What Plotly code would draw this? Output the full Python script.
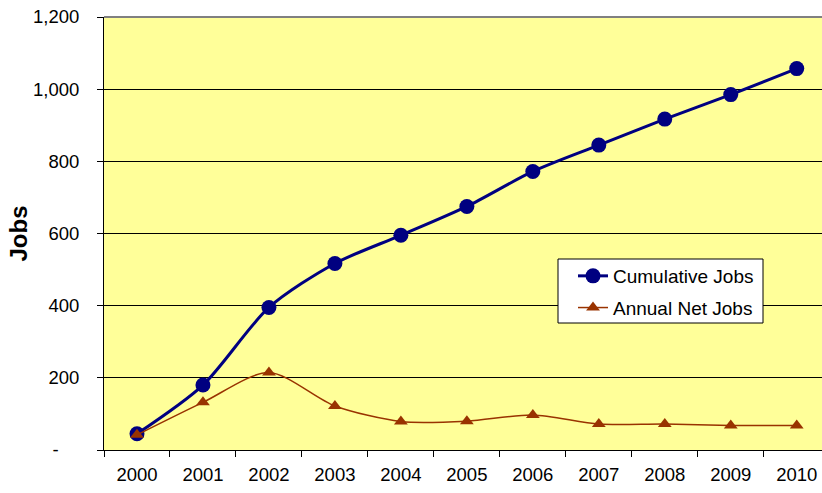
import plotly.graph_objects as go

years = ["2000", "2001", "2002", "2003", "2004", "2005", "2006", "2007", "2008", "2009", "2010"]
cumulative_jobs = [45, 180, 395, 517, 595, 675, 772, 845, 917, 985, 1057]
annual_net_jobs = [42, 132, 215, 122, 79, 80, 97, 72, 72, 68, 68]
y_tick_vals = [0, 200, 400, 600, 800, 1000, 1200]
y_tick_text = ["-\u00a0\u00a0\u00a0\u00a0", "200", "400", "600", "800", "1,000", "1,200"]

FONT = "Liberation Sans, Arial, sans-serif"

# plot area geometry in pixels (for paper-coordinate placement)
L, T, W, H = 104, 17, 718, 433


def px_x(x):
    return (x - L) / W


def px_y(y):
    return (T + H - y) / H


fig = go.Figure()
fig.add_trace(go.Scatter(
    x=years, y=cumulative_jobs, name="Cumulative Jobs", mode="lines+markers",
    line=dict(color="#000080", width=3, shape="spline", smoothing=0.8),
    marker=dict(symbol="circle", size=15, color="#000080"),
    legendgroup="a",
))
fig.add_trace(go.Scatter(
    x=years, y=annual_net_jobs, name="Annual Net Jobs", mode="lines+markers",
    line=dict(color="#993300", width=1.5, shape="spline", smoothing=0.8),
    marker=dict(symbol="triangle-up", size=12, color="#993300"),
    legendgroup="b",
))

fig.update_layout(
    width=822, height=493,
    margin=dict(l=L, r=0, t=T, b=493 - T - H),
    paper_bgcolor="white", plot_bgcolor="#FFFF99",
    font=dict(family=FONT, size=18.5, color="black"),
    showlegend=True,
    legend=dict(
        x=px_x(573), y=px_y(257), xanchor="left", yanchor="top",
        bgcolor="rgba(0,0,0,0)", borderwidth=0,
        font=dict(family=FONT, size=19, color="black"),
        tracegroupgap=4, traceorder="grouped",
    ),
    xaxis=dict(
        type="category", range=[-0.5, 10.383],
        tickson="boundaries", ticks="outside", ticklen=6, tickcolor="black",
        showline=True, linecolor="black", linewidth=1,
        showgrid=False, zeroline=False, ticklabelstandoff=8,
    ),
    yaxis=dict(
        range=[0, 1200], tickvals=y_tick_vals, ticktext=y_tick_text,
        ticks="outside", ticklen=6, tickcolor="black",
        showline=True, linecolor="black", linewidth=1,
        showgrid=True, gridcolor="black", gridwidth=1, zeroline=False,
        ticklabelstandoff=14,
    ),
    annotations=[dict(
        text="<b>Jobs</b>", textangle=-90, xref="paper", yref="paper",
        x=px_x(18), y=0.5, xanchor="center", yanchor="middle",
        showarrow=False, font=dict(family=FONT, size=24, color="black"),
    )],
    shapes=[
        dict(type="line", xref="paper", yref="paper", x0=0, x1=1, y0=1, y1=1,
             line=dict(color="#808080", width=2), layer="above"),
        dict(type="rect", xref="paper", yref="paper",
             x0=px_x(558), x1=px_x(763), y0=px_y(323), y1=px_y(259),
             fillcolor="white", line=dict(color="black", width=1), layer="above"),
    ],
)

fig.write_html("out.html")
